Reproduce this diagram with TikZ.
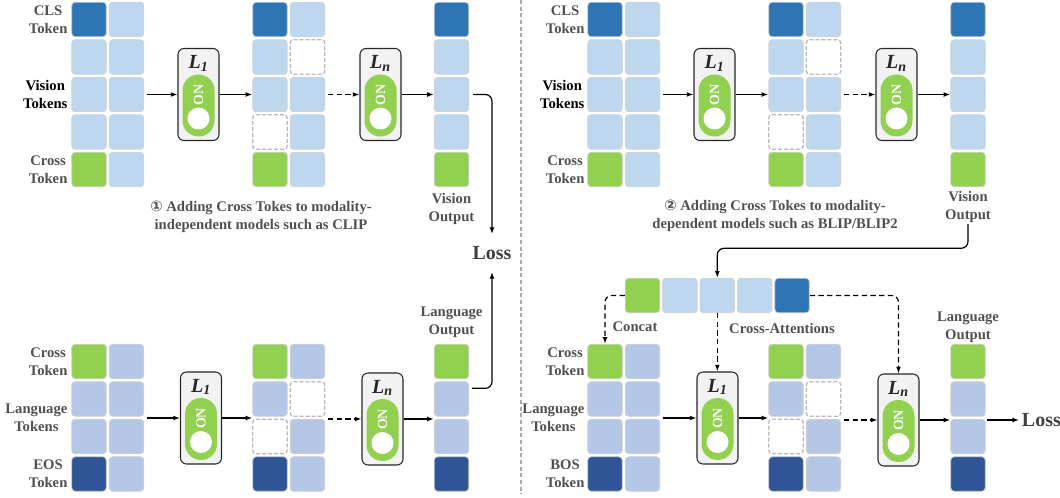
\documentclass[tikz,border=0pt]{standalone}
\usepackage{fontspec}
\setmainfont{Liberation Serif}
\newfontfamily\circfont{DejaVu Sans}
\usetikzlibrary{arrows.meta}

\begin{document}
\begin{tikzpicture}[x=0.75pt,y=0.75pt,yscale=-1,xscale=1,
  tokcell/.style={draw={rgb, 255:red, 212; green, 212; blue, 212 }, line width=0.6pt, rounded corners=2.5pt, minimum size=25.9pt, inner sep=0pt},
  tokcls/.style={tokcell, fill={rgb, 255:red, 46; green, 117; blue, 182 }},
  tokvis/.style={tokcell, fill={rgb, 255:red, 189; green, 215; blue, 238 }},
  tokcross/.style={tokcell, fill={rgb, 255:red, 146; green, 208; blue, 80 }},
  toklang/.style={tokcell, fill={rgb, 255:red, 180; green, 199; blue, 231 }},
  tokeos/.style={tokcell, fill={rgb, 255:red, 47; green, 85; blue, 151 }},
  tokdrop/.style={tokcell, fill=white, draw={rgb, 255:red, 185; green, 185; blue, 185 }, dash pattern={on 3pt off 1.5pt}, line width=1pt},
  layer/.style={draw={rgb, 255:red, 38; green, 38; blue, 38 }, fill={rgb, 255:red, 242; green, 242; blue, 242 }, line width=0.8pt, rounded corners=4.5pt, minimum width=30.75pt, minimum height=69pt, inner sep=0pt},
  pill/.style={fill={rgb, 255:red, 146; green, 208; blue, 80 }, rounded corners=11.9pt, minimum width=24pt, minimum height=46.5pt, inner sep=0pt},
  knob/.style={circle, fill=white, minimum size=16.5pt, inner sep=0pt},
  ontext/.style={text=white, font=\fontsize{10.5}{10.5}\selectfont\bfseries, rotate=90, inner sep=0pt},
  lname/.style={font=\fontsize{15}{15}\selectfont\bfseries\itshape, text={rgb, 255:red, 38; green, 38; blue, 38 }, inner sep=0pt},
  toklabel/.style={font=\fontsize{11}{13.5}\selectfont\bfseries, text={rgb, 255:red, 80; green, 80; blue, 80 }, align=center, anchor=east, inner sep=1pt},
  outlabel/.style={font=\fontsize{11}{13.5}\selectfont\bfseries, text={rgb, 255:red, 80; green, 80; blue, 80 }, align=center, inner sep=1pt},
  losstext/.style={font=\fontsize{15}{15}\selectfont\bfseries, text={rgb, 255:red, 64; green, 64; blue, 64 }},
  flow/.style={line width=0.9pt, -{Latex[length=5pt,width=3.6pt]}},
  flowdash/.style={flow, dash pattern={on 4pt off 2.5pt}}
]
\useasboundingbox (0,0) rectangle (1060,498);

%Straight Lines: panel separator
\draw [color={rgb, 255:red, 170; green, 170; blue, 170 }, line width=0.8pt, dash pattern={on 3pt off 2pt}] (521,0) -- (521,494);

%Shape: CLIP vision tokens
\foreach \s [count=\i] in {tokcls,tokvis,tokvis,tokvis,tokcross}
  \node [\s] (clipin1\i) at (89,{19.5+37.5*(\i-1)}) {};
\foreach \s [count=\i] in {tokvis,tokvis,tokvis,tokvis,tokvis}
  \node [\s] (clipin2\i) at (126.5,{19.5+37.5*(\i-1)}) {};
\foreach \s [count=\i] in {tokcls,tokvis,tokvis,tokdrop,tokcross}
  \node [\s] (clipmid1\i) at (270,{19.5+37.5*(\i-1)}) {};
\foreach \s [count=\i] in {tokvis,tokdrop,tokvis,tokvis,tokvis}
  \node [\s] (clipmid2\i) at (307.5,{19.5+37.5*(\i-1)}) {};
\foreach \s [count=\i] in {tokcls,tokvis,tokvis,tokvis,tokcross}
  \node [\s] (clipout\i) at (451.5,{19.5+37.5*(\i-1)}) {};

%Shape: CLIP language tokens
\foreach \s [count=\i] in {tokcross,toklang,toklang,tokeos}
  \node [\s] (cliptxtin1\i) at (89,{361.5+37.5*(\i-1)}) {};
\foreach \s [count=\i] in {toklang,toklang,toklang,toklang}
  \node [\s] (cliptxtin2\i) at (126.5,{361.5+37.5*(\i-1)}) {};
\foreach \s [count=\i] in {tokcross,toklang,tokdrop,tokeos}
  \node [\s] (cliptxtmid1\i) at (270,{361.5+37.5*(\i-1)}) {};
\foreach \s [count=\i] in {toklang,tokdrop,toklang,toklang}
  \node [\s] (cliptxtmid2\i) at (307.5,{361.5+37.5*(\i-1)}) {};
\foreach \s [count=\i] in {tokcross,toklang,toklang,tokeos}
  \node [\s] (cliptxtout\i) at (451.5,{361.5+37.5*(\i-1)}) {};

%Shape: BLIP vision tokens
\foreach \s [count=\i] in {tokcls,tokvis,tokvis,tokvis,tokcross}
  \node [\s] (blipin1\i) at (605,{19.5+37.5*(\i-1)}) {};
\foreach \s [count=\i] in {tokvis,tokvis,tokvis,tokvis,tokvis}
  \node [\s] (blipin2\i) at (642.5,{19.5+37.5*(\i-1)}) {};
\foreach \s [count=\i] in {tokcls,tokvis,tokvis,tokdrop,tokcross}
  \node [\s] (blipmid1\i) at (786,{19.5+37.5*(\i-1)}) {};
\foreach \s [count=\i] in {tokvis,tokdrop,tokvis,tokvis,tokvis}
  \node [\s] (blipmid2\i) at (823.5,{19.5+37.5*(\i-1)}) {};
\foreach \s [count=\i] in {tokcls,tokvis,tokvis,tokvis,tokcross}
  \node [\s] (blipout\i) at (968,{19.5+37.5*(\i-1)}) {};

%Shape: BLIP query bar
\foreach \s [count=\i] in {tokcross,tokvis,tokvis,tokvis,tokcls}
  \node [\s] (blipbar\i) at ({642.5+37.4*(\i-1)},295.5) {};

%Shape: BLIP language tokens
\foreach \s [count=\i] in {tokcross,toklang,toklang,tokeos}
  \node [\s] (bliptxtin1\i) at (605,{361.5+37.5*(\i-1)}) {};
\foreach \s [count=\i] in {toklang,toklang,toklang,toklang}
  \node [\s] (bliptxtin2\i) at (642.5,{361.5+37.5*(\i-1)}) {};
\foreach \s [count=\i] in {tokcross,toklang,tokdrop,tokeos}
  \node [\s] (bliptxtmid1\i) at (786,{361.5+37.5*(\i-1)}) {};
\foreach \s [count=\i] in {toklang,tokdrop,toklang,toklang}
  \node [\s] (bliptxtmid2\i) at (823.5,{361.5+37.5*(\i-1)}) {};
\foreach \s [count=\i] in {tokcross,toklang,toklang,tokeos}
  \node [\s] (bliptxtout\i) at (968,{361.5+37.5*(\i-1)}) {};

%Shape: layer switches
\foreach \n/\x/\y/\l in {clipL1/198.5/94.5/1, clipLn/380.5/94.5/n, cliptxtL1/201/418/1, cliptxtLn/382.5/419/n,
                         blipL1/714.5/94.5/1, blipLn/896.5/94.5/n, bliptxtL1/717.5/418/1, bliptxtLn/898.5/420/n} {
  \node [layer] (\n) at (\x,\y) {};
  \node [pill] (\n-pill) at (\x,{\y+11}) {};
  \node [ontext] (\n-on) at (\x,{\y+0.5}) {ON};
  \node [knob] (\n-knob) at (\x,{\y+24}) {};
  \node [lname] (\n-name) at (\x,{\y-31}) {L\textsubscript{\l}};
}

% Text Node
\node [toklabel] (clipcls) at (69,19.5) {CLS\\Token};
\node [toklabel, text=black] (clipvis) at (69,94.5) {Vision\\Tokens};
\node [toklabel] (clipcross) at (69,169.5) {Cross\\Token};
\node [toklabel] (cliptxtcross) at (69,361.5) {Cross\\Token};
\node [toklabel] (cliplang) at (69,418) {Language\\Tokens};
\node [toklabel] (clipeos) at (69,474) {EOS\\Token};
% Text Node
\node [toklabel] (blipcls) at (586,19.5) {CLS\\Token};
\node [toklabel, text=black] (blipvis) at (586,94.5) {Vision\\Tokens};
\node [toklabel] (blipcross) at (586,169.5) {Cross\\Token};
\node [toklabel] (bliptxtcross) at (586,361.5) {Cross\\Token};
\node [toklabel] (bliplang) at (586,418) {Language\\Tokens};
\node [toklabel] (blipbos) at (586,474) {BOS\\Token};
% Text Node
\node [outlabel] (clipvout) at (451.5,209) {Vision\\Output};
\node [outlabel] (cliplout) at (451.5,322) {Language\\Output};
\node [outlabel] (blipvout) at (968,207) {Vision\\Output};
\node [outlabel] (bliplout) at (968,327) {Language\\Output};
% Text Node
\node [outlabel] (clipcap) at (261,217) {{\circfont\bfseries ①} Adding Cross Tokes to modality-\\independent models such as CLIP};
\node [outlabel] (blipcap) at (775,216) {{\circfont\bfseries ②} Adding Cross Tokes to modality-\\dependent models such as BLIP/BLIP2};
\node [outlabel] (concat) at (635,327) {Concat};
\node [outlabel] (crossatt) at (782,328) {Cross-Attentions};
% Text Node
\node [losstext, inner xsep=2pt, inner ysep=9pt] (cliploss) at (492,253) {Loss};
\node [losstext, inner sep=2pt, anchor=west] (bliploss) at (1019,420) {Loss};

%Straight Lines: CLIP vision flow
\draw [flow, shorten <=2pt] (clipin23.east) -- (clipin23.east -| clipL1.west);
\draw [flow] (clipL1.east) -- (clipL1.east -| clipmid11.west);
\draw [flowdash, shorten <=2pt] (clipmid23.east) -- (clipmid23.east -| clipLn.west);
\draw [flow] (clipLn.east) -- (clipLn.east -| clipout1.west);
\draw [flow, rounded corners=5pt] ([xshift=3pt]clipout3.east) -| (cliploss.north);
%Straight Lines: CLIP language flow
\draw [flow, shorten <=2pt] (cliptxtL1.west -| cliptxtin21.east) -- (cliptxtL1.west);
\draw [flow] (cliptxtL1.east) -- (cliptxtL1.east -| cliptxtmid11.west);
\draw [flowdash, shorten <=2pt] (cliptxtLn.west -| cliptxtmid21.east) -- (cliptxtLn.west);
\draw [flow] (cliptxtLn.east) -- (cliptxtLn.east -| cliptxtout1.west);
\draw [flow, rounded corners=5pt] ([xshift=2pt,yshift=-8pt]cliptxtout2.east) -| (cliploss.south);

%Straight Lines: BLIP vision flow
\draw [flow, shorten <=2pt] (blipin23.east) -- (blipin23.east -| blipL1.west);
\draw [flow] (blipL1.east) -- (blipL1.east -| blipmid11.west);
\draw [flowdash, shorten <=2pt] (blipmid23.east) -- (blipmid23.east -| blipLn.west);
\draw [flow] (blipLn.east) -- (blipLn.east -| blipout1.west);
\draw [flow, rounded corners=5pt] (blipvout.south) -- ++(0,24) -| (blipbar3.north);
%Straight Lines: BLIP query links
\draw [flowdash, rounded corners=5pt] (blipbar1.west) -| (bliptxtin11.north);
\draw [flowdash] (blipbar3.south) -- (blipbar3.south |- bliptxtL1.north);
\draw [flowdash, rounded corners=5pt] (blipbar5.east) -| (bliptxtLn.north);
%Straight Lines: BLIP language flow
\draw [flow, shorten <=2pt] (bliptxtL1.west -| bliptxtin21.east) -- (bliptxtL1.west);
\draw [flow] (bliptxtL1.east) -- (bliptxtL1.east -| bliptxtmid11.west);
\draw [flowdash, shorten <=2pt] (bliptxtLn.west -| bliptxtmid21.east) -- (bliptxtLn.west);
\draw [flow] (bliptxtLn.east) -- (bliptxtLn.east -| bliptxtout1.west);
\draw [flow, shorten <=1pt] (bliptxtLn.east -| bliptxtout1.east) -- (bliploss.west);
\end{tikzpicture}
\end{document}
